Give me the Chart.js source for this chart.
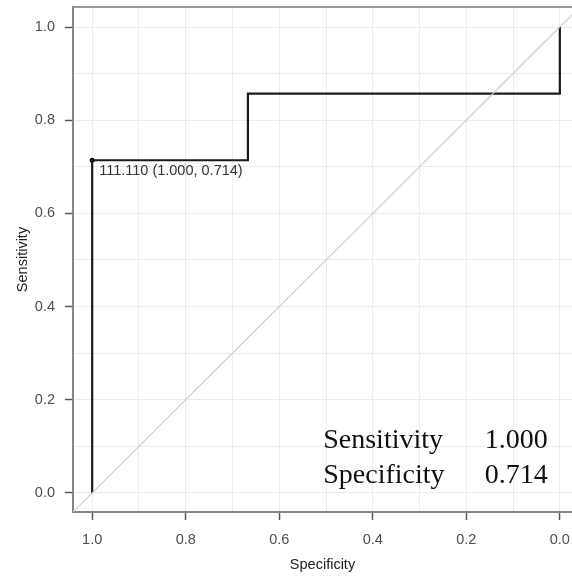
<!DOCTYPE html>
<html>
<head>
<meta charset="utf-8">
<script src="https://cdn.jsdelivr.net/npm/chart.js@4/dist/chart.umd.min.js"></script>
<style>
  html, body { margin: 0; padding: 0; background: #fff; }
  #wrap { width: 572px; height: 579px; }
</style>
</head>
<body>
<div id="wrap"><canvas id="roc" width="572" height="579"></canvas></div>
<script>
// ROC curve (specificity runs from 1 down to 0)
const specificity = [1.0, 1.0, 0.667, 0.667, 0.0, 0.0];
const sensitivity = [0.0, 0.714, 0.714, 0.857, 0.857, 1.0];

// best threshold
const bestThreshold = 111.110;
const bestSpec = 1.000;
const bestSens = 0.714;

const majorTicks = [0, 0.2, 0.4, 0.6, 0.8, 1.0];
const gridValues = [0, 0.1, 0.2, 0.3, 0.4, 0.5, 0.6, 0.7, 0.8, 0.9, 1.0];

const isMajor = v => majorTicks.some(m => Math.abs(m - v) < 1e-6);

const rocPoints = specificity.map((s, i) => ({ x: s, y: sensitivity[i] }));

const sansFamily = 'Liberation Sans, Arial, sans-serif';

function commonScale(extra, labelPad) {
  return Object.assign({
    type: 'linear',
    afterBuildTicks: scale => { scale.ticks = gridValues.map(v => ({ value: v })); },
    grid: {
      color: '#ececec',
      lineWidth: 1,
      drawTicks: true,
      tickLength: 8,
      tickWidth: 1.5,
      tickColor: ctx => (ctx.tick && isMajor(ctx.tick.value)) ? '#555' : 'rgba(0,0,0,0)'
    },
    border: { display: true, color: '#858585', width: 2 },
    ticks: {
      autoSkip: false,
      maxRotation: 0,
      padding: labelPad,
      color: '#4d4d4d',
      font: { family: sansFamily, size: 14.5 },
      callback: v => isMajor(v) ? v.toFixed(1) : ''
    }
  }, extra);
}

// top frame line + annotations
const extras = {
  id: 'extras',
  afterDatasetsDraw(chart) {
    const { ctx, chartArea, scales } = chart;
    const xs = scales.x, ys = scales.y;

    ctx.save();
    ctx.strokeStyle = '#999';
    ctx.lineWidth = 2;
    ctx.beginPath();
    ctx.moveTo(chartArea.left, chartArea.top);
    ctx.lineTo(chartArea.right, chartArea.top);
    ctx.stroke();

    // threshold label
    const px = xs.getPixelForValue(bestSpec);
    const py = ys.getPixelForValue(bestSens);
    ctx.fillStyle = '#333';
    ctx.font = '14.5px ' + sansFamily;
    ctx.textBaseline = 'middle';
    ctx.textAlign = 'left';
    ctx.fillText(bestThreshold.toFixed(3) + ' (' + bestSpec.toFixed(3) + ', ' + bestSens.toFixed(3) + ')', px + 7, py + 11);

    // summary text
    ctx.font = '28px Liberation Serif, Times New Roman, serif';
    ctx.fillStyle = '#111';
    ctx.textBaseline = 'alphabetic';
    const left = xs.getPixelForValue(0.506);
    const right = xs.getPixelForValue(0.026);
    const rows = [['Sensitivity', 1.000, 0.097], ['Specificity', 0.714, 0.021]];
    rows.forEach(([name, val, yv]) => {
      const y = ys.getPixelForValue(yv);
      ctx.textAlign = 'left';
      ctx.fillText(name, left, y);
      ctx.textAlign = 'right';
      ctx.fillText(val.toFixed(3), right, y);
    });
    ctx.restore();
  }
};

new Chart(document.getElementById('roc'), {
  type: 'scatter',
  data: {
    datasets: [
      {
        label: 'chance',
        data: [{ x: 1.1, y: -0.1 }, { x: -0.1, y: 1.1 }],
        showLine: true,
        borderColor: '#cfcfcf',
        borderWidth: 1.2,
        pointRadius: 0
      },
      {
        label: 'ROC',
        data: rocPoints,
        showLine: true,
        borderColor: '#1a1a1a',
        borderWidth: 2.2,
        pointRadius: 0,
        tension: 0
      },
      {
        label: 'best',
        data: [{ x: bestSpec, y: bestSens }],
        pointRadius: 2.5,
        pointBackgroundColor: '#000',
        pointBorderWidth: 0
      }
    ]
  },
  options: {
    responsive: false,
    animation: false,
    layout: { autoPadding: false, padding: { top: 7, right: 0, left: 0, bottom: 0 } },
    plugins: { legend: { display: false }, tooltip: { enabled: false } },
    scales: {
      x: commonScale({
        reverse: true,
        min: -0.026,
        max: 1.041,
        afterFit: s => { s.height = 67; s.paddingLeft = 0; s.paddingRight = 0; },
        title: {
          display: true,
          text: 'Specificity',
          color: '#222',
          font: { family: sansFamily, size: 14.5 },
          padding: { top: 0, bottom: 5 }
        }
      }, 11),
      y: commonScale({
        min: -0.041,
        max: 1.043,
        afterFit: s => { s.width = 73; s.paddingTop = 0; s.paddingBottom = 0; },
        title: {
          display: true,
          text: 'Sensitivity',
          color: '#222',
          font: { family: sansFamily, size: 14.5 },
          padding: { top: 14, bottom: 0 }
        }
      }, 10)
    }
  },
  plugins: [extras]
});
</script>
</body>
</html>
